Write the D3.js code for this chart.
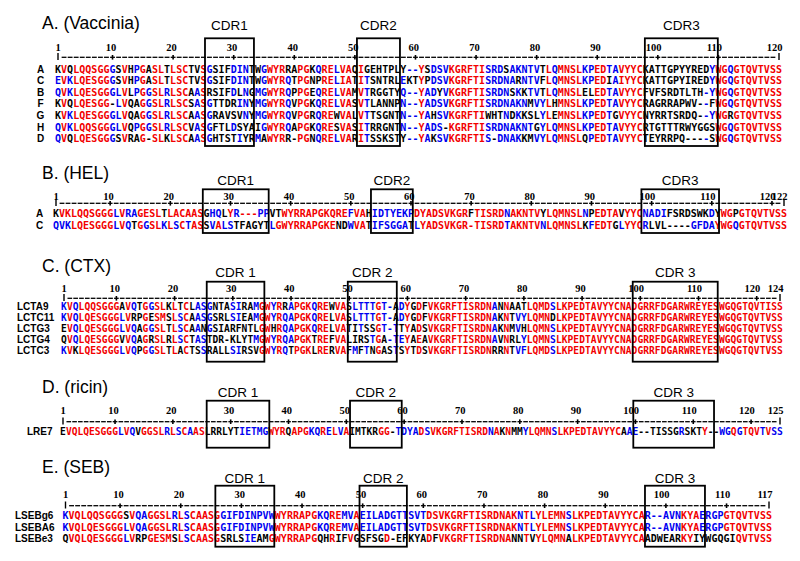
<!DOCTYPE html>
<html><head><meta charset="utf-8">
<script src="https://cdn.jsdelivr.net/npm/d3@7"></script>
<style>body{margin:0;background:#fff}</style>
</head><body>
<svg id="chart" width="800" height="561"></svg>
<script>
// ---------------- DATA ----------------
const panelTitles = ["A. (Vaccinia)", "B. (HEL)", "C. (CTX)", "D. (ricin)", "E. (SEB)"];

// Panel A
const namesA = ["A", "C", "B", "F", "G", "H", "D"];
const seqsA = [
  "KVQLQQSGGGSVHPGASLTLSCTVSGSIFDINTWGWYRRAPGKQRELVAQIGEHTPLY--YSDSVKGRFTISRDSAKNTVTLQMNSLKPEDTAVYYCKATTGPYYREDYWGQGTQVTVSS",
  "EVKLQESGGGSVHPGASLTLSCTVSGSIFDINTWGWYRQTPGNPRELIATITSNTRLEKTYPDSVKGRFTISRDNARNTVFLQMNSLKPEDIAIYYCKATTGPYIREDYWGQGTQVTVSS",
  "QVKLQESGGGLVLPGGSLRLSCAASRSIFDLNGMGWYRQPPGEQRELVAMVTRGGTYQ--YADYVKGRFTISRDNSKKTVTLQMNSLELEDTAVYYCFVFSRDTLTH-YWGQGTQVTVSS",
  "KVQLQESGG-LVQAGGSLRLSCSASGTTDRINYMGWYRQVPGKQRELVASVTLANNPN--YADSVKGRFTISRDNAKNMVYLHMNSLKPEDTAVYYCRAGRRAPWV--FWGQGTQVTVSS",
  "KVKLQESGGGLVQAGGSLRLSCAASGRAVSVNYMGWYRQVPGRQREWVALVTTSGNTN--YAHSVKGRFTIWHTNDKKSLYLEMNSLKPEDTGVYYCNYRRTSRDQ--YWGRGTQVTVSS",
  "QVKLQQSGGGLVQPGGSLRLSCVASGFTLDSYAIGWYRQAPGKQRESVASITRRGNTN--YADS-KGRFTISRDNAKNTGYLQMNSLKPEDTAVYYCRTGTTTRWYGGSWGQGTQVTVSS",
  "QVQLQESGGGSVRAG-SLKLSCAASGHTSTIYRMAWYRR-PGNQRELVARITSSKSTY--YAKSVKGRFTIS-DNAKKMVYLQMNSLQPEDTAVYYCTEYRRPQ----SWGQGTQVTVSS"
];
const cdrLabelsA = ["CDR1", "CDR2", "CDR3"];
const cdrSpansA = [[25.26, 33.34], [50.34, 57.44], [97.86, 109.9]];
const ticksA = [1, 10, 20, 30, 40, 50, 60, 70, 80, 90, 100, 110, 120];

// Panel B
const namesB = ["A", "C"];
const seqsB = [
  "KVKLQQSGGGLVRAGESLTLACAASGHQLYR---PPVTWYRRAPGKQREFVAHIDTYEKPDYADSVKGRFTISRDNAKNTVYLQMNSLNPEDTAVYYCNADIFSRDSWKDYWGPGTQVTVSS",
  "QVKLQESGGGLVQTGGSLKLSCTASSVALSTFAGYTLGWYRRAPGKENDWVATIFSGGATLYADSVKGR-TISRDTAKNTVNLQMNSLKFEDTGLYYCRLVL----GFDAYWGQGTQVTVSS"
];
// residue colour codes: r = red, b = blue, k = black
const colorsB = [
  "krrrrrrrrr" + "brbbrrrrkr" + "rrrrrkbbkr" + "brrrbbkkrr" + "rrrrrrrrrb" + "rrkbbbbbbb" + "rrrrrrrrrk" + "rrrrrbrrrr" + "rkrrrrrrbk" + "rrrrkrrrbb" + "bbkkkkkkkb" + "krrkrrrrrr" + "rr",
  "bbbrrrrrrr" + "brbkrbrrbr" + "brbrrkbrbb" + "kkkkkkbrrr" + "rrrrrrrkkb" + "rrkbbbbbbk" + "brrrrrrrrr" + "rrrrrbrrrr" + "rbrrrrrrkb" + "rrrkbrrrbk" + "kkkkkkbbbb" + "rrrbrrrrrr" + "rr"
];
const cdrLabelsB = ["CDR1", "CDR2", "CDR3"];
const cdrSpansB = [[25.4, 36.35], [53.35, 60.3], [98.3, 111.2]];
const ticksB = [1, 10, 20, 30, 40, 50, 60, 70, 80, 90, 100, 110, 120, 122];

// Panel C
const namesC = ["LCTA9", "LCTC11", "LCTG3", "LCTG4", "LCTC3"];
const seqsC = [
  "KVQLQQSGGGAVQTGGSLKLTCLASGNTASIRAMGWYRRAPGKQREWVASLTTTGT-ADYGDFVKGRFTISRDNANNAATLQMDSLKPEDTAVYYCNADGRRFDGARWREYESWGQGTQVTISS",
  "KVQLQESGGGLVRPGESMSLSCAASGSRLSIEAMGWYRQAPGKQRELVASLTTTGT-ADYGDFVKGRFTISRDNAKNTVYLQMNDLKPEDTAVYYCNADGRRFDGARWREYESWGQGTQVTVSS",
  "EVQLQESGGGLVQAGGSLTLSCAANGSIARFNTLGWHRQAPGKQRELVATITSSGT-TTYADSVKGRFTISRDNAKNMVHLQMNSLKPEDTAVYYCNADGRRFDGARWREYESWGQGTQVTVSS",
  "QVQLQESGGGVVQAGRSLRLSCTASTDR-KLYTMGWYRQAPGKTREFVALIRSTGA-TEYAEAVKGRFTISRDNAVNRLYLQMNSLKPEDTAVYYCNADGRRFDGARWREYESWGQGTQVTVSS",
  "KVKLQESGGGLVQPGGSLTLACTSSRALLSIRSVGWYRQTPGKLRERVAFMFTNGASTSYTDSVKGRFTISRDNRRNTVFLQMDSLKPEDTAVYYCNADGRRFDGARWREYESWGQGTQVTVSS"
];
const cdrLabelsC = ["CDR 1", "CDR 2", "CDR 3"];
const cdrSpansC = [[25.52, 35.42], [49.75, 58.17], [98.7, 113.3]];
const ticksC = [1, 10, 20, 30, 40, 50, 60, 70, 80, 90, 100, 110, 120, 124];

// Panel D
const namesD = ["LRE7"];
const seqsD = [
  "EVQLQESGGGLVQVGGSLRLSCAASLRRLYTIETMGWYRQAPGKQRELVAIMTKRGG-TDYADSVKGRFTISRDNAKNMMYLQMNSLKPEDTAVYYCAAE--TISSGRSKTY--WGQGTQVTVSS"
];
const colorsD = [
  "krrrrrrrrr" + "brbkrrrrbr" + "brbrrkkkkk" + "kbbbbbrrrk" + "rrrbbrbrbr" + "kkkkkrrkbb" + "bbrbrrrrrr" + "rrrrbrkrkk" + "brrrrbrrrr" + "rrrrrrrkbb" + "kkkkkkkbkk" + "krkkbbrbrr" + "rbrbb"
];
const cdrLabelsD = ["CDR 1", "CDR 2", "CDR 3"];
const cdrSpansD = [[25.85, 36.68], [50.64, 59.58], [99.63, 113.59]];
const ticksD = [1, 10, 20, 30, 40, 50, 60, 70, 80, 90, 100, 110, 120, 125];

// Panel E
const namesE = ["LSEBg6", "LSEBA6", "LSEBe3"];
const seqsE = [
  "KVQLQQSGGGSVQAGGSLRLSCAASGGIFDINPVWWYRRAPGKQREMVAEILADGTTSVTDSVKGRFTISRDNAKNTLYLEMNSLKPEDTAVYYCAR--AVNKYAERGPGTQVTVSS",
  "KVQLQESGGGLVQAGGSLRLSCAASGGIFDINPVWWYRRAPGKQREMVAEILADGTTSVTDSVKGRFTISRDNAKNTLYLEMNSLKPEDTAVYYCAR--AVNKYAERGPGTQVTVSS",
  "QVQLQESGGGLVRPGESMSLSCAASGSRLSIEAMGWYRRAPGQHRIFVGSFSGD-EFKYADFVKGRFTISRDNANNTVYLQMNALKPEDTAVYYCAADWEARKYIYWGQGIQVTVSS"
];
const colorsE = [
  "brrrrrrrrr" + "krbbrrrrbr" + "brrrrrbbbb" + "bbbbbrrrrr" + "rrbbrrbbrb" + "bbbbbbbbbb" + "rrrrrrrrrr" + "rrrrrbrbrr" + "rrrbrrrrrr" + "rrrrrrbbbb" + "bbrrrbbbbr" + "rrrrrrr",
  "brrrrrrrrr" + "brbbrrrrbr" + "brrrrrbbbb" + "bbbbbrrrrr" + "rrbbrrbbrb" + "bbbbbbbbbb" + "rrrrrrrrrr" + "rrrrrbrbrr" + "rrrbrrrrrr" + "rrrrrrbbbb" + "bbrrrbbbbr" + "rrrrrrr",
  "krrrrrrrrr" + "brkkrrrrkr" + "brrrrrkkkk" + "bbkkrrrrrr" + "rrkkrkkrkk" + "kkkrkkkkkk" + "rkrrrrrrrr" + "rrrrkkrkrr" + "rrrkrrrrrr" + "rrrrrrkkkk" + "kkrrkkkkkk" + "krrrrrr"
];
const cdrLabelsE = ["CDR 1", "CDR 2", "CDR 3"];
const cdrSpansE = [[25.71, 35.43], [49.48, 57.29], [96.55, 106.44]];
const ticksE = [1, 10, 20, 30, 40, 50, 60, 70, 80, 90, 100, 110, 117];

// ---------------- LAYOUT (positions / styles) ----------------
const layout = [
  {x1: 58,   xN: 779, titleY: 29.3,  cdrY: 30,    boxTop: 38.3,  boxBottom: 146,   numY: 50.5,  rulerY: 57.3,  rowY0: 72.8,  rowStep: 11.55, fs: 10,  labelX: 40.5, anchor: "middle"},
  {x1: 56,   xN: 784, titleY: 179.3, cdrY: 185,   boxTop: 189.3, boxBottom: 233,   numY: 199.5, rulerY: 203.3, rowY0: 217,   rowStep: 11.6,  fs: 10,  labelX: 39.5, anchor: "middle"},
  {x1: 64,   xN: 780, titleY: 271.7, cdrY: 276.7, boxTop: 281.7, boxBottom: 361.7, numY: 292,   rulerY: 298.3, rowY0: 309.6, rowStep: 11.1,  fs: 9.6, labelX: 17,   anchor: "start"},
  {x1: 63,   xN: 780, titleY: 393.3, cdrY: 397.3, boxTop: 400.7, boxBottom: 447.7, numY: 413.6, rulerY: 421.7, rowY0: 435.3, rowStep: 11.1,  fs: 9.6, labelX: 27,   anchor: "start"},
  {x1: 65.5, xN: 769, titleY: 473.3, cdrY: 483.3, boxTop: 485.7, boxBottom: 546.7, numY: 498,   rulerY: 505.7, rowY0: 519.3, rowStep: 11.35, fs: 10,  labelX: 15,   anchor: "start"}
];
const palette = {r: "#f20000", b: "#0000f0", k: "#000000"};
const seqFont = "'DejaVu Sans Mono', monospace";

// ---------------- consensus colouring (MultAlin-like) ----------------
const groups = ["IV", "LM", "FY", "NDQEBZ"];
function consensusColors(seqs) {
  const n = seqs.length, L = seqs[0].length;
  const out = seqs.map(() => []);
  for (let j = 0; j < L; j++) {
    const col = seqs.map(s => s[j]);
    const counts = d3.rollup(col, v => v.length, c => c);
    let top = null, topC = 0;
    counts.forEach((c, k) => { if (c > topC) { top = k; topC = c; } });
    let red = new Set(), blue = new Set();
    if (topC / n >= 0.9) red.add(top);
    else {
      for (const g of groups) {
        const gc = d3.sum(col, c => g.includes(c) ? 1 : 0);
        if (gc / n >= 0.9) { for (const c of col) if (g.includes(c)) red.add(c); }
      }
    }
    if (red.size === 0) {
      if (topC / n >= 0.5) blue.add(top);
      else {
        for (const g of groups) {
          const gc = d3.sum(col, c => g.includes(c) ? 1 : 0);
          if (gc / n >= 0.5) { for (const c of col) if (g.includes(c)) blue.add(c); }
        }
      }
    }
    col.forEach((c, i) => out[i].push(red.has(c) ? "r" : blue.has(c) ? "b" : "k"));
  }
  return out.map(a => a.join(""));
}

const panels = [
  {title: panelTitles[0], names: namesA, seqs: seqsA, colors: consensusColors(seqsA), cdrLabels: cdrLabelsA, cdrSpans: cdrSpansA, ticks: ticksA},
  {title: panelTitles[1], names: namesB, seqs: seqsB, colors: colorsB, cdrLabels: cdrLabelsB, cdrSpans: cdrSpansB, ticks: ticksB},
  {title: panelTitles[2], names: namesC, seqs: seqsC, colors: consensusColors(seqsC), cdrLabels: cdrLabelsC, cdrSpans: cdrSpansC, ticks: ticksC},
  {title: panelTitles[3], names: namesD, seqs: seqsD, colors: colorsD, cdrLabels: cdrLabelsD, cdrSpans: cdrSpansD, ticks: ticksD},
  {title: panelTitles[4], names: namesE, seqs: seqsE, colors: colorsE, cdrLabels: cdrLabelsE, cdrSpans: cdrSpansE, ticks: ticksE}
];

// ---------------- DRAW ----------------
const svg = d3.select("#chart");
svg.append("rect").attr("width", 800).attr("height", 561).attr("fill", "#fff");

panels.forEach((p, pi) => {
  const L = layout[pi];
  const N = p.seqs[0].length;
  const x = d3.scaleLinear().domain([1, N]).range([L.x1, L.xN]);
  const pitch = (L.xN - L.x1) / (N - 1);
  const y = d3.scaleLinear().domain([0, 1]).range([L.rowY0, L.rowY0 + L.rowStep]);
  const g = svg.append("g").attr("class", "panel");

  // title
  g.append("text").attr("x", 42).attr("y", L.titleY)
    .attr("font-family", "'Liberation Sans', Arial, sans-serif").attr("font-size", 17.5)
    .attr("fill", "#000").text(p.title);

  // CDR labels
  g.selectAll("text.cdr").data(p.cdrSpans).join("text").attr("class", "cdr")
    .attr("x", d => x((d[0] + d[1]) / 2)).attr("y", L.cdrY)
    .attr("text-anchor", "middle")
    .attr("font-family", "'Liberation Sans', Arial, sans-serif").attr("font-size", 13.5)
    .attr("fill", "#000").text((d, i) => p.cdrLabels[i]);

  // tick numbers
  g.selectAll("text.num").data(p.ticks).join("text").attr("class", "num")
    .attr("x", d => d === 1 ? x(d) : x(d) + 3.6).attr("y", L.numY)
    .attr("text-anchor", d => d === 1 ? "middle" : "end")
    .attr("font-family", "'Liberation Serif', serif").attr("font-weight", "bold").attr("font-size", 10.5)
    .attr("fill", "#000").text(d => d);

  // ruler
  const cols = d3.range(1, N + 1);
  const rg = g.append("g").attr("stroke", "#000");
  rg.selectAll("line.dash").data(cols.filter(c => c !== 1 && c !== N)).join("line").attr("class", "dash")
    .attr("x1", c => x(c) - pitch * 0.4).attr("x2", c => x(c) + pitch * 0.4)
    .attr("y1", L.rulerY).attr("y2", L.rulerY).attr("stroke-width", 1.3);
  rg.selectAll("line.plus").data(cols.filter(c => c % 10 === 0 && c !== N)).join("line").attr("class", "plus")
    .attr("x1", c => x(c)).attr("x2", c => x(c))
    .attr("y1", L.rulerY - 2.3).attr("y2", L.rulerY + 2.3).attr("stroke-width", 1.6);
  rg.selectAll("line.end").data([1, N]).join("line").attr("class", "end")
    .attr("x1", c => x(c)).attr("x2", c => x(c))
    .attr("y1", L.rulerY - 4.2).attr("y2", L.rulerY + 2.8).attr("stroke-width", 1.4);

  // row labels
  g.selectAll("text.rowname").data(p.names).join("text").attr("class", "rowname")
    .attr("x", L.labelX).attr("y", (d, i) => y(i))
    .attr("text-anchor", L.anchor)
    .attr("font-family", "'Liberation Sans', Arial, sans-serif").attr("font-weight", "bold").attr("font-size", 10)
    .attr("fill", "#000").text(d => d);

  // residues
  p.seqs.forEach((s, ri) => {
    const chars = s.split("").map((c, j) => ({c, col: j + 1, color: p.colors[ri][j] || "k"}));
    g.append("g").selectAll("text").data(chars).join("text")
      .attr("x", d => x(d.col)).attr("y", y(ri))
      .attr("text-anchor", "middle")
      .attr("font-family", seqFont).attr("font-weight", "bold").attr("font-size", L.fs)
      .attr("fill", d => palette[d.color]).text(d => d.c);
  });

  // CDR boxes
  g.selectAll("rect.cdrbox").data(p.cdrSpans).join("rect").attr("class", "cdrbox")
    .attr("x", d => x(d[0])).attr("width", d => x(d[1]) - x(d[0]))
    .attr("y", L.boxTop).attr("height", L.boxBottom - L.boxTop)
    .attr("fill", "none").attr("stroke", "#000").attr("stroke-width", 1.8);
});
</script>
</body></html>
